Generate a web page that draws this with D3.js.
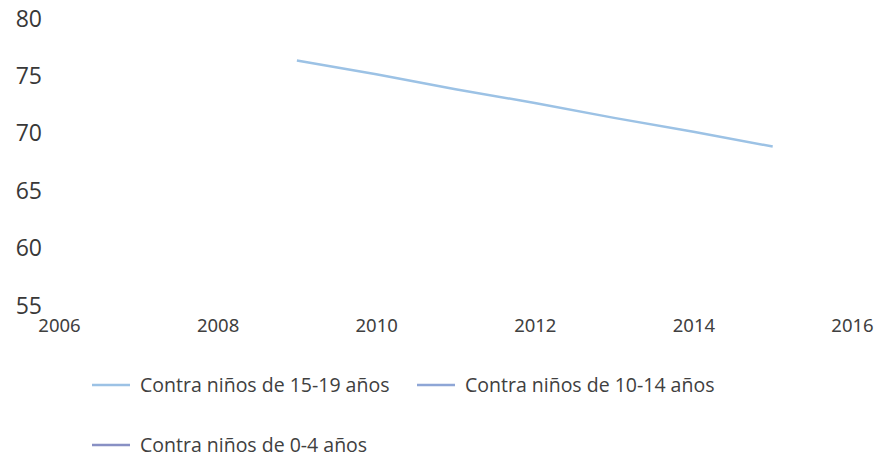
<!DOCTYPE html>
<html>
<head>
<meta charset="utf-8">
<script src="https://cdn.jsdelivr.net/npm/d3@7"></script>
<style>
  body { margin: 0; background: #fff; }
  svg { display: block; }
</style>
</head>
<body>
<div id="chart"></div>
<script>
// data
var years = [2009, 2010, 2011, 2012, 2013, 2014, 2015];
var values15_19 = [76.3, 75.1, 73.8, 72.6, 71.3, 70.1, 68.8];
var seriesNames = ["Contra niños de 15-19 años", "Contra niños de 10-14 años", "Contra niños de 0-4 años"];
var seriesColors = ["#9cc2e5", "#8ea6d6", "#8890c4"];
var yTicks = [55, 60, 65, 70, 75, 80];
var xTicks = [2006, 2008, 2010, 2012, 2014, 2016];

var svgWidth = 879;
var svgHeight = 457;

var svg = d3.select("#chart")
  .append("svg")
  .attr("width", svgWidth)
  .attr("height", svgHeight);

var xScale = d3.scaleLinear()
  .domain([2006, 2016])
  .range([59, 852]);

var yScale = d3.scaleLinear()
  .domain([55, 80])
  .range([305, 18]);

// y axis labels
var yAxis = d3.axisLeft(yScale).tickValues(yTicks).tickSize(0).tickPadding(0);
var yg = svg.append("g")
  .attr("transform", "translate(42,0)")
  .call(yAxis);
yg.select(".domain").remove();
yg.selectAll("text")
  .attr("font-family", "'Open Sans', sans-serif")
  .attr("font-size", "23px")
  .attr("fill", "#383838")
  .attr("dy", "0.35em");

// x axis labels
var xAxis = d3.axisBottom(xScale).tickValues(xTicks).tickFormat(d3.format("d")).tickSize(0).tickPadding(0);
var xg = svg.append("g")
  .attr("transform", "translate(0,319)")
  .call(xAxis);
xg.select(".domain").remove();
xg.selectAll("text")
  .attr("font-family", "'Noto Sans', sans-serif")
  .attr("font-size", "18.5px")
  .attr("fill", "#404040");

// the one visible series
var line = d3.line()
  .x((d, i) => xScale(years[i]))
  .y(d => yScale(d));

svg.append("path")
  .datum(values15_19)
  .attr("d", line)
  .attr("fill", "none")
  .attr("stroke", seriesColors[0])
  .attr("stroke-width", 2.5);

// legend
var legendPos = [[92, 385], [417, 385], [92, 445]];
var legend = svg.selectAll(".legend")
  .data(seriesNames)
  .enter()
  .append("g")
  .attr("class", "legend")
  .attr("transform", (d, i) => `translate(${legendPos[i][0]}, ${legendPos[i][1]})`);

legend.append("line")
  .attr("x1", 0)
  .attr("x2", 38)
  .attr("y1", 0)
  .attr("y2", 0)
  .attr("stroke", (d, i) => seriesColors[i])
  .attr("stroke-width", 2.5);

legend.append("text")
  .attr("x", 48)
  .attr("y", 0)
  .attr("dy", "0.35em")
  .attr("font-family", "'Open Sans', sans-serif")
  .attr("font-size", "19.5px")
  .attr("fill", "#404040")
  .text(d => d);
</script>
</body>
</html>
